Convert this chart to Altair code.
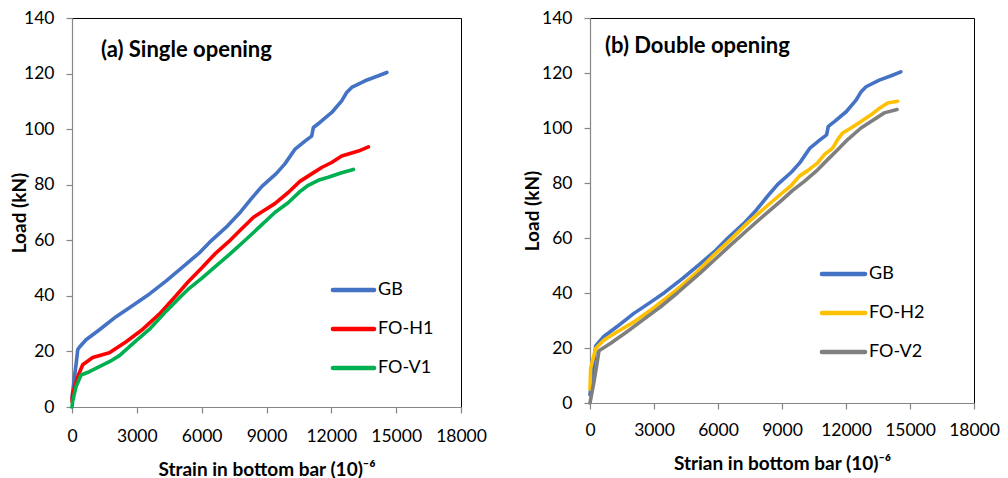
import altair as alt
import pandas as pd

FONT = "Lato"

# ---------------- data ----------------
x_ticks = [0, 3000, 6000, 9000, 12000, 15000, 18000]
y_ticks = [0, 20, 40, 60, 80, 100, 120, 140]

panel_titles = ["(a) Single opening", "(b) Double opening"]
x_titles = ["Strain in bottom bar (10)⁻⁶", "Strian in bottom bar (10)⁻⁶"]
y_title = "Load (kN)"

series_a = ["GB", "FO-H1", "FO-V1"]
colors_a = ["#4472C4", "#FF0000", "#00B050"]
series_b = ["GB", "FO-H2", "FO-V2"]
colors_b = ["#4472C4", "#FFC000", "#7F7F7F"]

gb_strain = [0, 100, 200, 264, 340, 650, 1270, 2040, 2810, 3500, 4360, 5130, 5910, 6450, 7200,
             7800, 8300, 8800, 9450, 9850, 10310, 10780, 11090, 11170, 11470, 12020, 12480,
             12710, 12940, 13560, 14180, 14570]
gb_load = [3, 10, 16, 20.6, 21.5, 24.2, 27.8, 32.5, 36.5, 40.2, 45.4, 50.4, 55.6, 59.9, 65.2,
           70.2, 75, 79.5, 84, 87.5, 92.7, 95.7, 97.5, 100.6, 102.4, 106, 110.2,
           113.2, 115, 117.4, 119.2, 120.4]

h1_strain = [0, 30, 264, 495, 958, 1730, 2505, 3278, 4050, 4750, 5367, 6000, 6602, 7250, 7900,
             8400, 8700, 9386, 10006, 10545, 11088, 11551, 12015, 12479, 13252, 13716]
h1_load = [2, 4.9, 10.9, 15.2, 17.8, 19.5, 23.5, 28, 33.5, 39.5, 45, 50, 55, 59.5, 64.5,
           68.3, 69.8, 73.2, 77.2, 81.2, 83.9, 86.2, 88, 90.3, 92.1, 93.6]

v1_strain = [0, 30, 186, 418, 804, 1267, 1730, 2195, 2814, 3587, 4361, 5000, 5367, 6000, 6602,
             7300, 8151, 8700, 9386, 10000, 10545, 10933, 11396, 11860, 12479, 13021]
v1_load = [0, 2, 7.3, 11.5, 12.7, 14.5, 16.3, 18.5, 22.8, 28, 34.5, 39.5, 42.3, 46.3, 50.3,
           55, 61, 65, 70, 73.5, 77.5, 79.8, 81.6, 82.7, 84.3, 85.5]

h2_strain = [0, 30, 266, 656, 1281, 2063, 2845, 3625, 4266, 5000, 5828, 6600, 7391, 8200, 8953,
             9422, 9813, 10203, 10672, 10984, 11375, 11609, 11843, 12234, 12703, 13172, 13484,
             13953, 14420]
h2_load = [5, 12.6, 19.8, 22.9, 25.9, 29.5, 33.8, 38.5, 42.5, 47.5, 54, 59.5, 65.5, 71, 76,
           79, 82.5, 84.5, 87.3, 90.3, 92.7, 95.8, 98.2, 100, 102.4, 104.8, 106.7, 109.1, 109.7]

v2_strain = [0, 187, 300, 422, 969, 1750, 2531, 3312, 4094, 4578, 5200, 5828, 6600, 7391, 8200,
             8953, 9500, 10047, 10672, 11140, 11609, 12078, 12703, 13172, 13797, 14390]
v2_load = [0, 7.8, 13, 19, 21.7, 26, 30.5, 35, 40, 43.3, 47.5, 52, 57.5, 63, 68.5,
           73.5, 77.3, 80.6, 84.8, 88.5, 92.1, 95.8, 100, 102.4, 105.5, 106.7]


def panel(series, colors, strains, loads, title, xtitle, w, h,
          title_pos, leg_x0, leg_x1, leg_y, leg_dy, ytitle_x, xlabel_pad, xtitle_y):
    rows = []
    for s, xs, ys in zip(series, strains, loads):
        for k, (xv, yv) in enumerate(zip(xs, ys)):
            rows.append({"series": s, "strain": xv, "load": yv, "i": k})
    df = pd.DataFrame(rows)

    lines = alt.Chart(df).mark_line(
        strokeWidth=3.6, strokeCap="round", strokeJoin="round"
    ).encode(
        x=alt.X("strain:Q",
                scale=alt.Scale(domain=[0, 18000], nice=False),
                axis=alt.Axis(values=x_ticks, format="d", title=xtitle,
                              labelFlush=False, labelOverlap=False,
                              labelPadding=xlabel_pad, titleY=xtitle_y,
                              titleBaseline="middle")),
        y=alt.Y("load:Q",
                scale=alt.Scale(domain=[0, 140], nice=False),
                axis=alt.Axis(values=y_ticks, title=y_title, labelPadding=12,
                              titleX=ytitle_x)),
        color=alt.Color("series:N", scale=alt.Scale(domain=series, range=colors), legend=None),
        order="i:Q",
    )

    layers = [lines]
    for k, (s, c) in enumerate(zip(series, colors)):
        ldf = pd.DataFrame({"series": [s]})
        yy = leg_y + k * leg_dy
        layers.append(alt.Chart(ldf).mark_rule(strokeWidth=4.6, strokeCap="round", color=c).encode(
            x=alt.value(leg_x0), x2=alt.value(leg_x1), y=alt.value(yy)))
        layers.append(alt.Chart(ldf).mark_text(
            align="left", baseline="middle", fontSize=18, font=FONT, color="#000000"
        ).encode(text="series:N", x=alt.value(leg_x1 + 4), y=alt.value(yy)))

    tdf = pd.DataFrame({"t": [title]})
    layers.append(alt.Chart(tdf).mark_text(
        align="left", baseline="middle", fontSize=22, fontWeight="bold", font=FONT, color="#000000"
    ).encode(text="t:N", x=alt.value(title_pos[0]), y=alt.value(title_pos[1])))

    return alt.layer(*layers).properties(width=w, height=h)


left = panel(series_a, colors_a, [gb_strain, h1_strain, v1_strain], [gb_load, h1_load, v1_load],
             panel_titles[0], x_titles[0], 389, 389,
             (29, 32), 261, 302, 272, 39, -43, 14, 62)
right = panel(series_b, colors_b, [gb_strain, h2_strain, v2_strain], [gb_load, h2_load, v2_load],
              panel_titles[1], x_titles[1], 384, 385,
              (15, 28), 232, 275, 256, 39, -48, 12, 60)

chart = alt.hconcat(left, right, spacing=129, bounds="flush").resolve_scale(
    color="independent"
).properties(
    padding={"left": 1, "top": 0, "right": 0, "bottom": 0}
).configure_view(
    stroke="#000000", strokeWidth=1
).configure_axis(
    grid=False,
    domainColor="#868686", domainWidth=1.2,
    tickColor="#868686", tickSize=6, tickWidth=1.2,
    labelFont=FONT, labelFontSize=17.5, labelColor="#000000",
    titleFont=FONT, titleFontSize=19, titleFontWeight="bold", titleColor="#000000",
)

chart.save("out.html", embed_options={"renderer": "svg", "actions": False})
